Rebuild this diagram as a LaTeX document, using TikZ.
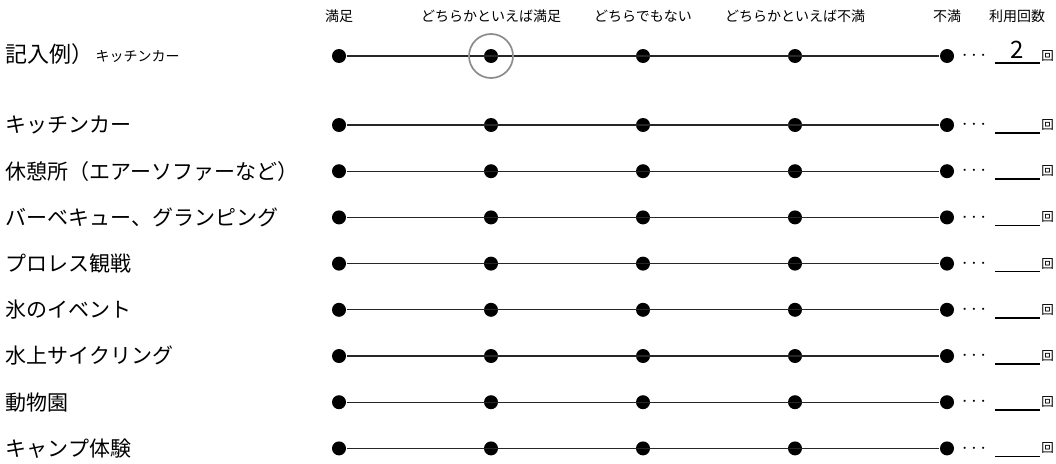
\documentclass[tikz,border=0pt]{standalone}
\usepackage{fontspec}
\setmainfont{Noto Sans CJK JP}
\usetikzlibrary{positioning}

\begin{document}
\begin{tikzpicture}[x=1pt,y=-1pt,inner sep=0pt,line width=1.3pt]
\tikzstyle{dot}=[circle,fill=black,minimum size=14pt]
\tikzstyle{item}=[anchor=west,font=\fontsize{21}{24}\selectfont]
\tikzstyle{head}=[font=\fontsize{14}{16}\selectfont]
\tikzstyle{unit}=[font=\fontsize{12.5}{14}\selectfont]
\tikzstyle{etc}=[font=\fontsize{20}{20}\selectfont]
\tikzstyle{uline}=[line width=1.7pt]
\useasboundingbox (0,0) rectangle (1056,463);

\foreach \c/\x/\t in {1/339/満足,2/491/どちらかといえば満足,3/643/どちらでもない,4/795/どちらかといえば不満,5/947/不満}
  \node[head] (h\c) at (\x,16) {\t};
\node[head] (h6) at (1017,16) {利用回数};

\node[item,font=\fontsize{22}{24}\selectfont] (ex) at (5,54) {記入例）};
\node[anchor=west,font=\fontsize{14}{16}\selectfont] (exname) at (95,56) {キッチンカー};
\foreach \c/\x in {1/339,2/491,3/643,4/795,5/947}
  \node[dot] (x\c) at (\x,56) {};
\draw[black!85] (x1) -- (x5);
\node[circle,draw=black!45,line width=1.7pt,minimum size=44pt] (mark) at (x2) {};
\node[etc] (el0) at (974,56) {$\cdots$};
\coordinate (ua0) at (995,63);
\coordinate (ub0) at (1040,63);
\draw[uline] (ua0) -- (ub0);
\node[font=\fontsize{24}{24}\selectfont] (num) at (1017,50) {2};
\node[unit] (u0) at (1047.5,56) {回};

\foreach \t [count=\i] in {キッチンカー,休憩所（エアーソファーなど）,バーベキュー、グランピング,プロレス観戦,氷のイベント,水上サイクリング,動物園,キャンプ体験}{
  \pgfmathsetmacro\y{125+46.2*(\i-1)}
  \node[item] (l\i) at (5,\y) {\t};
  \foreach \c/\x in {1/339,2/491,3/643,4/795,5/947}
    \node[dot] (d\i-\c) at (\x,\y) {};
  \draw[black!85] (d\i-1) -- (d\i-5);
  \node[etc] (el\i) at (974,\y) {$\cdots$};
  \coordinate (ua\i) at (995,\y+8);
  \coordinate (ub\i) at (1040,\y+8);
  \draw[uline] (ua\i) -- (ub\i);
  \node[unit] (u\i) at (1047.5,\y) {回};
}
\end{tikzpicture}
\end{document}
